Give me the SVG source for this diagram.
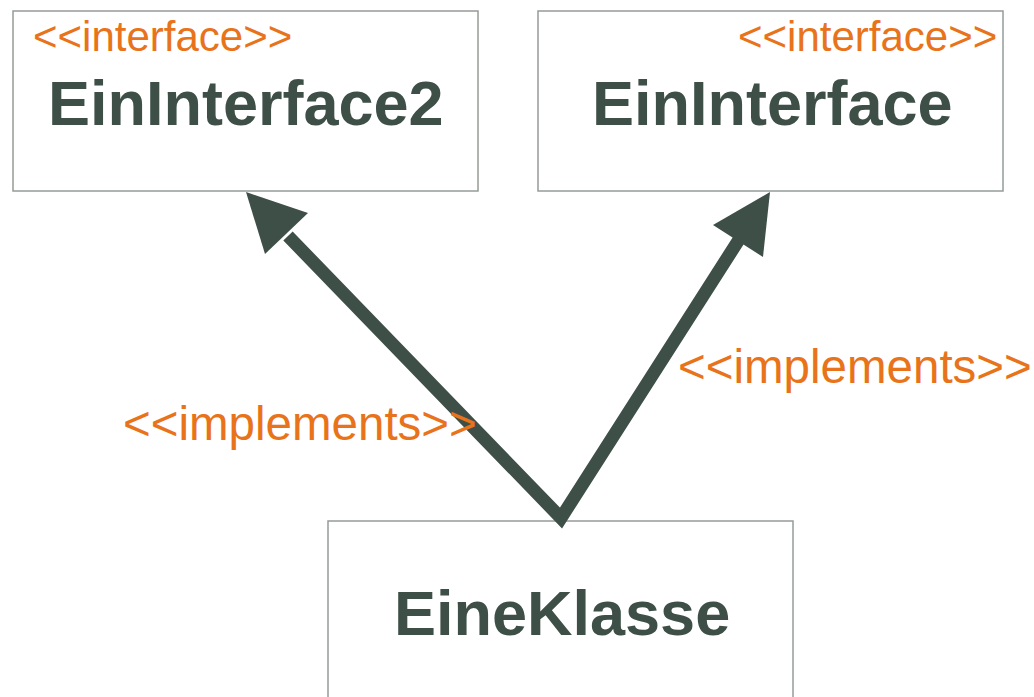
<svg xmlns="http://www.w3.org/2000/svg" width="1034" height="697" viewBox="0 0 1034 697">
<style>
.box{fill:#ffffff;stroke:#959c98;stroke-width:1.5}
.name{font-family:"Liberation Sans",Arial,sans-serif;font-weight:bold;font-size:63px;fill:#3d4f47}
.stereo{font-family:"Liberation Sans",Arial,sans-serif;font-size:42px;fill:#e8731a}
.lbl{font-family:"Liberation Sans",Arial,sans-serif;font-size:47.5px;fill:#e8731a}
.conn{fill:none;stroke:#3d4f47;stroke-width:13;stroke-linejoin:miter;stroke-miterlimit:10}
.head{fill:#3d4f47}
</style>
<rect width="1034" height="697" fill="#ffffff"/>
<g id="EinInterface2">
<rect class="box" x="13" y="11" width="465" height="180"/>
<text class="stereo" x="33" y="51">&lt;&lt;interface&gt;&gt;</text>
<text class="name" x="48" y="125">EinInterface2</text>
</g>
<g id="EinInterface">
<rect class="box" x="538" y="11" width="465" height="180"/>
<text class="stereo" x="738" y="51">&lt;&lt;interface&gt;&gt;</text>
<text class="name" x="592" y="125">EinInterface</text>
</g>
<g id="EineKlasse">
<rect class="box" x="328" y="521" width="465" height="190"/>
<text class="name" x="394" y="635">EineKlasse</text>
</g>
<g id="connectors">
<path class="conn" d="M288,236 L561,518 L740,238"/>
<polygon class="head" points="246,192 308,213 265,254"/>
<polygon class="head" points="770,192 713,225 763,257"/>
<text class="lbl" x="123" y="440">&lt;&lt;implements&gt;&gt;</text>
<text class="lbl" x="678" y="383">&lt;&lt;implements&gt;&gt;</text>
</g>
</svg>
